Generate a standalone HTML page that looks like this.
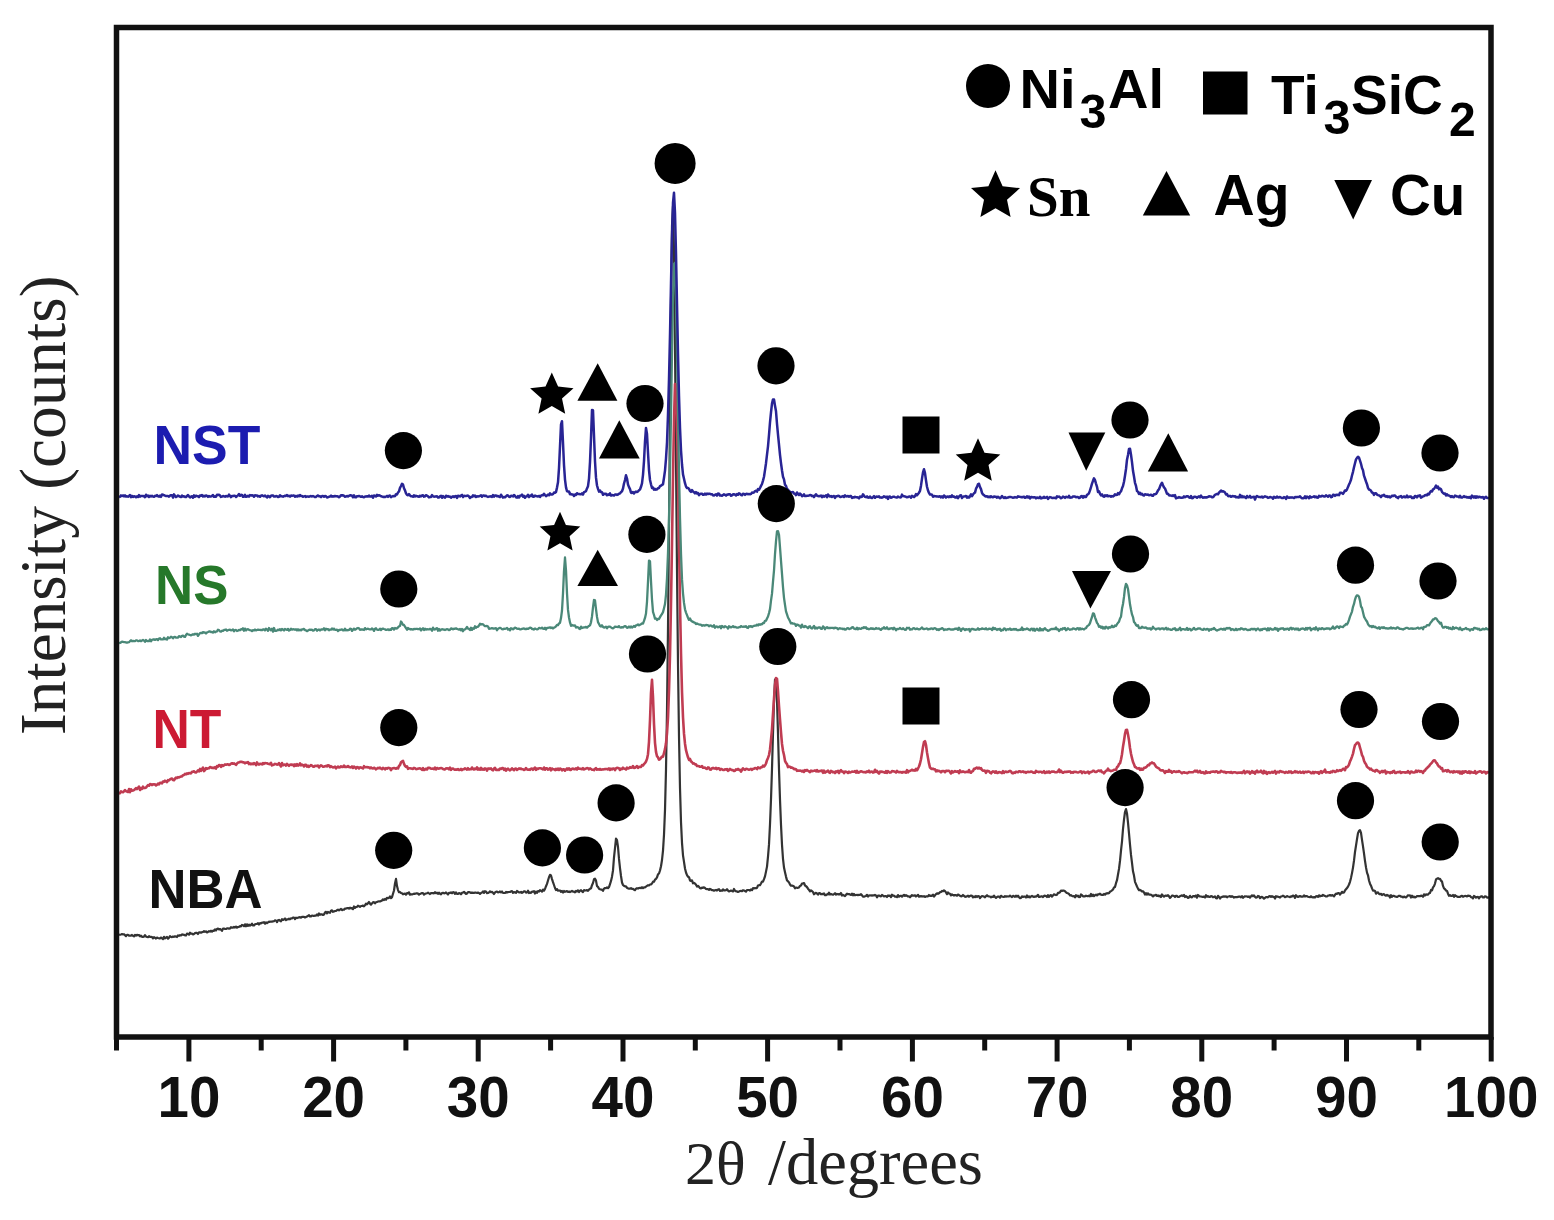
<!DOCTYPE html>
<html><head><meta charset="utf-8"><title>XRD patterns</title>
<style>
html,body{margin:0;padding:0;background:#fff;}
svg{display:block;}
</style></head>
<body>
<svg width="1554" height="1220" viewBox="0 0 1554 1220">
<rect width="1554" height="1220" fill="#ffffff"/>
<g id="curves">
<polyline fill="none" stroke="#333333" stroke-width="2.2" stroke-linejoin="round" points="119,934.5 120,934.8 121,934.5 122,934.1 123,934.5 124,934.2 125,935.1 126,936.1 127,934.9 128,934.9 129,935.7 130,935.7 131,935.7 132,935.0 133,935.8 134,936.4 135,935.0 136,935.7 137,934.8 138,935.3 139,935.0 140,936.3 141,935.6 142,936.8 143,936.8 144,936.7 145,935.1 146,936.6 147,937.0 148,937.2 149,936.2 150,937.0 151,936.8 152,937.0 153,938.4 154,937.2 155,937.8 156,938.5 157,937.6 158,938.0 159,938.3 160,938.3 161,937.5 162,938.3 163,939.0 164,936.8 165,938.4 166,937.7 167,937.0 168,938.7 169,937.7 170,936.2 171,936.9 172,937.1 173,936.5 174,936.9 175,936.3 176,936.6 177,937.0 178,935.4 179,935.8 180,935.2 181,935.5 182,934.4 183,934.7 184,934.8 185,935.4 186,935.5 187,933.6 188,933.8 189,934.7 190,932.7 191,933.6 192,933.7 193,934.5 194,934.0 195,933.1 196,932.9 197,932.9 198,934.0 199,932.4 200,932.4 201,932.7 202,932.2 203,932.0 204,931.2 205,931.8 206,931.4 207,932.4 208,931.9 209,931.2 210,931.6 211,930.7 212,931.6 213,930.7 214,930.9 215,929.5 216,930.5 217,928.9 218,928.5 219,929.5 220,929.0 221,929.6 222,930.9 223,928.6 224,928.6 225,929.0 226,929.0 227,928.4 228,928.3 229,928.7 230,928.5 231,927.2 232,927.7 233,927.7 234,926.8 235,927.5 236,926.6 237,927.7 238,927.0 239,926.8 240,926.2 241,926.4 242,924.9 243,925.3 244,926.2 245,924.3 246,926.3 247,924.3 248,925.9 249,924.6 250,925.6 251,925.0 252,923.7 253,925.5 254,925.5 255,924.3 256,924.0 257,923.9 258,923.2 259,924.5 260,923.2 261,923.4 262,922.7 263,922.7 264,922.1 265,923.7 266,922.5 267,923.2 268,922.4 269,921.7 270,921.8 271,921.5 272,921.7 273,921.3 274,921.2 275,920.3 276,920.5 277,922.1 278,920.3 279,919.9 280,920.7 281,921.3 282,919.2 283,919.9 284,919.4 285,918.5 286,920.1 287,919.4 288,919.3 289,918.6 290,919.3 291,918.4 292,918.5 293,917.7 294,917.5 295,919.1 296,917.7 297,918.1 298,917.7 299,917.3 300,917.1 301,917.7 302,916.9 303,916.8 304,916.8 305,917.5 306,917.0 307,916.6 308,915.8 309,915.1 310,916.5 311,916.4 312,915.5 313,915.8 314,915.8 315,915.7 316,915.6 317,914.4 318,915.6 319,913.5 320,914.8 321,914.3 322,914.4 323,914.9 324,914.4 325,912.4 326,911.8 327,913.4 328,911.9 329,912.4 330,912.8 331,910.8 332,910.3 333,911.8 334,911.4 335,911.0 336,911.0 337,910.2 338,909.6 339,910.3 340,909.6 341,908.9 342,910.2 343,909.6 344,909.7 345,908.6 346,908.6 347,908.2 348,908.0 349,908.6 350,907.7 351,908.3 352,908.1 353,909.1 354,906.5 355,907.9 356,907.0 357,906.9 358,905.7 359,906.2 360,906.8 361,906.0 362,906.0 363,905.5 364,906.3 365,905.3 366,903.6 367,904.4 368,903.2 369,902.0 370,903.6 371,904.6 372,903.4 373,902.3 374,902.1 375,903.3 376,902.3 377,901.9 378,901.5 379,901.3 380,901.5 381,901.0 382,900.5 383,899.3 384,900.0 385,898.9 386,899.8 387,897.8 388,898.2 389,897.9 390,896.5 391,898.1 392,897.1 393,893.8 394,890.5 395,883.5 396,878.9 397,886.1 398,890.1 399,892.2 400,892.1 401,893.0 402,893.3 403,894.3 404,893.8 405,893.6 406,894.7 407,893.2 408,893.4 409,892.4 410,894.7 411,894.3 412,894.3 413,894.1 414,893.7 415,893.8 416,893.4 417,893.4 418,893.6 419,894.6 420,893.9 421,893.5 422,893.1 423,893.1 424,894.6 425,893.8 426,893.5 427,893.2 428,892.7 429,893.4 430,894.0 431,893.1 432,893.2 433,893.2 434,893.4 435,892.2 436,893.2 437,892.7 438,893.9 439,892.7 440,893.7 441,894.3 442,893.0 443,892.8 444,893.3 445,893.2 446,892.5 447,893.5 448,894.5 449,892.9 450,893.0 451,892.4 452,893.3 453,892.2 454,892.3 455,893.9 456,892.4 457,893.8 458,894.0 459,893.1 460,893.3 461,894.3 462,892.8 463,892.5 464,891.9 465,892.9 466,893.9 467,893.5 468,892.2 469,892.2 470,892.4 471,893.0 472,892.6 473,892.9 474,892.9 475,892.5 476,892.7 477,892.8 478,892.6 479,893.0 480,893.9 481,893.0 482,892.6 483,891.4 484,892.8 485,891.2 486,891.5 487,893.1 488,893.0 489,892.4 490,891.3 491,892.2 492,891.9 493,892.8 494,894.0 495,892.5 496,891.8 497,891.5 498,892.3 499,892.2 500,891.5 501,892.4 502,891.5 503,893.0 504,893.0 505,893.0 506,891.9 507,892.6 508,892.1 509,892.0 510,892.0 511,891.3 512,891.2 513,892.8 514,892.1 515,892.3 516,892.9 517,891.0 518,891.6 519,892.3 520,892.4 521,891.9 522,892.9 523,892.3 524,891.3 525,891.4 526,892.6 527,892.4 528,890.7 529,893.0 530,892.4 531,892.9 532,891.7 533,891.7 534,891.1 535,893.6 536,891.6 537,892.8 538,891.1 539,891.6 540,890.2 541,890.9 542,891.6 543,889.6 544,890.6 545,889.0 546,886.2 547,883.9 548,880.5 549,877.2 550,874.8 551,875.5 552,879.1 553,882.2 554,885.0 555,888.0 556,890.0 557,889.1 558,890.7 559,890.5 560,890.5 561,891.9 562,891.0 563,892.5 564,891.0 565,891.8 566,891.4 567,891.1 568,892.0 569,891.5 570,892.1 571,891.6 572,890.9 573,891.6 574,891.7 575,892.3 576,891.0 577,891.5 578,890.3 579,892.0 580,890.7 581,890.2 582,891.3 583,892.1 584,890.2 585,890.4 586,890.5 587,890.0 588,890.8 589,889.6 590,888.8 591,888.3 592,885.2 593,883.0 594,879.3 595,878.7 596,880.6 597,886.1 598,886.9 599,888.7 600,889.2 601,889.6 602,889.6 603,890.9 604,888.6 605,888.0 606,888.1 607,887.4 608,888.2 609,887.1 610,884.2 611,880.9 612,876.7 613,870.4 614,857.3 615,848.2 616,838.6 617,840.1 618,847.0 619,858.9 620,868.2 621,876.0 622,882.5 623,885.0 624,885.8 625,886.4 626,886.4 627,887.8 628,888.4 629,888.6 630,888.7 631,888.1 632,888.9 633,888.9 634,889.8 635,890.2 636,888.7 637,888.2 638,888.6 639,888.0 640,887.8 641,888.1 642,887.2 643,888.1 644,887.3 645,887.3 646,886.6 647,885.9 648,885.3 649,885.3 650,884.5 651,884.4 652,883.5 653,881.7 654,881.7 655,879.6 656,878.8 657,877.4 658,874.3 659,873.5 660,870.5 661,866.2 662,860.0 663,850.6 664,834.7 665,809.9 666,769.6 667,710.6 668,628.0 669,526.8 670,412.6 671,303.6 672,225.9 673,206.4 674,250.4 675,345.4 676,458.9 677,569.8 678,664.5 679,736.5 680,787.9 681,822.1 682,842.8 683,855.3 684,861.9 685,868.5 686,872.5 687,875.1 688,876.7 689,877.2 690,880.4 691,880.9 692,880.3 693,883.3 694,882.8 695,883.6 696,884.7 697,886.6 698,885.9 699,886.8 700,888.2 701,888.4 702,887.6 703,887.8 704,887.3 705,888.0 706,889.0 707,889.2 708,889.2 709,889.9 710,888.9 711,889.5 712,890.2 713,890.2 714,890.7 715,890.3 716,889.9 717,890.5 718,889.6 719,889.2 720,890.9 721,890.5 722,890.8 723,889.4 724,890.4 725,890.3 726,890.2 727,889.2 728,890.6 729,891.5 730,891.1 731,890.5 732,890.9 733,891.4 734,889.0 735,890.8 736,891.3 737,891.3 738,892.0 739,891.6 740,891.0 741,890.9 742,891.2 743,890.2 744,890.5 745,891.0 746,891.7 747,890.1 748,890.0 749,890.0 750,890.6 751,889.4 752,890.2 753,888.2 754,888.4 755,888.0 756,888.3 757,887.9 758,885.5 759,885.2 760,885.2 761,883.5 762,881.6 763,881.7 764,879.2 765,876.4 766,871.6 767,866.6 768,856.7 769,844.4 770,824.3 771,799.2 772,768.8 773,733.1 774,701.1 775,679.6 776,678.8 777,700.7 778,733.5 779,769.4 780,799.6 781,824.8 782,844.8 783,858.8 784,867.6 785,872.3 786,876.6 787,880.4 788,881.3 789,882.4 790,884.5 791,885.7 792,885.7 793,885.8 794,886.5 795,888.3 796,887.5 797,887.8 798,887.8 799,887.4 800,885.9 801,885.5 802,883.5 803,883.3 804,883.0 805,885.5 806,886.1 807,887.1 808,888.7 809,889.9 810,891.4 811,890.4 812,891.2 813,892.0 814,894.3 815,893.4 816,892.8 817,893.5 818,894.6 819,893.1 820,893.1 821,894.3 822,893.9 823,894.1 824,893.4 825,895.1 826,895.1 827,894.3 828,894.5 829,892.6 830,894.5 831,894.0 832,894.5 833,894.7 834,894.1 835,893.2 836,894.7 837,893.9 838,894.3 839,894.1 840,894.3 841,893.0 842,895.5 843,894.9 844,895.5 845,896.1 846,894.8 847,893.6 848,894.2 849,894.0 850,894.6 851,895.0 852,893.6 853,895.3 854,894.0 855,895.3 856,895.0 857,894.9 858,895.1 859,894.8 860,894.8 861,894.1 862,895.3 863,896.6 864,896.7 865,896.3 866,895.9 867,894.9 868,896.5 869,895.4 870,895.5 871,895.3 872,895.6 873,895.3 874,895.5 875,894.9 876,895.4 877,897.3 878,895.7 879,895.6 880,896.1 881,896.3 882,895.0 883,895.7 884,896.5 885,896.1 886,896.0 887,897.0 888,895.5 889,896.0 890,895.6 891,897.0 892,894.7 893,895.6 894,895.7 895,896.6 896,896.5 897,897.1 898,895.1 899,896.7 900,896.0 901,895.7 902,896.6 903,895.6 904,894.8 905,895.9 906,895.2 907,895.8 908,896.5 909,896.4 910,897.3 911,896.1 912,895.1 913,895.7 914,895.6 915,895.3 916,896.5 917,895.7 918,894.8 919,896.7 920,896.1 921,896.4 922,896.2 923,896.6 924,896.2 925,897.0 926,896.4 927,896.3 928,896.3 929,895.0 930,895.8 931,895.7 932,895.9 933,894.7 934,896.6 935,895.3 936,894.1 937,893.3 938,893.8 939,893.3 940,892.2 941,892.0 942,890.9 943,891.3 944,890.3 945,891.1 946,892.4 947,894.2 948,892.4 949,893.5 950,893.8 951,895.4 952,894.4 953,895.1 954,895.6 955,895.1 956,895.2 957,895.7 958,894.6 959,895.1 960,895.8 961,896.3 962,896.1 963,895.0 964,895.9 965,896.8 966,896.7 967,896.2 968,895.7 969,896.8 970,895.9 971,895.5 972,895.8 973,897.4 974,896.5 975,897.2 976,896.0 977,897.0 978,896.0 979,896.3 980,898.1 981,896.9 982,896.0 983,896.3 984,896.6 985,897.3 986,896.1 987,895.2 988,896.2 989,896.4 990,896.5 991,897.3 992,896.7 993,897.0 994,895.7 995,897.0 996,897.9 997,897.0 998,896.6 999,896.6 1000,897.7 1001,895.8 1002,896.4 1003,896.8 1004,897.0 1005,896.1 1006,896.7 1007,896.3 1008,896.5 1009,896.4 1010,895.6 1011,896.4 1012,897.1 1013,895.8 1014,896.3 1015,896.9 1016,895.7 1017,896.6 1018,895.7 1019,897.2 1020,898.1 1021,897.9 1022,896.3 1023,897.0 1024,896.5 1025,896.5 1026,897.5 1027,895.5 1028,897.2 1029,896.4 1030,897.4 1031,896.5 1032,895.9 1033,896.6 1034,896.9 1035,896.4 1036,896.7 1037,896.0 1038,894.8 1039,897.0 1040,896.8 1041,896.4 1042,896.3 1043,897.0 1044,895.9 1045,895.7 1046,896.0 1047,897.0 1048,895.1 1049,896.9 1050,895.5 1051,895.1 1052,896.6 1053,895.4 1054,894.3 1055,894.7 1056,895.1 1057,894.7 1058,892.9 1059,892.8 1060,892.2 1061,890.6 1062,890.9 1063,890.6 1064,890.6 1065,891.2 1066,892.3 1067,893.0 1068,893.3 1069,894.0 1070,895.5 1071,895.2 1072,895.9 1073,896.3 1074,896.0 1075,897.3 1076,895.2 1077,896.4 1078,895.6 1079,897.1 1080,897.0 1081,894.5 1082,895.2 1083,896.3 1084,896.4 1085,896.3 1086,895.7 1087,896.1 1088,896.2 1089,895.6 1090,896.4 1091,894.0 1092,896.0 1093,894.7 1094,896.1 1095,895.2 1096,894.6 1097,895.4 1098,894.4 1099,894.3 1100,893.7 1101,894.6 1102,894.8 1103,895.0 1104,894.0 1105,894.6 1106,893.6 1107,893.2 1108,893.3 1109,893.2 1110,891.7 1111,891.1 1112,890.4 1113,889.5 1114,887.4 1115,886.9 1116,883.2 1117,880.2 1118,874.5 1119,868.9 1120,860.9 1121,850.7 1122,841.5 1123,829.0 1124,819.7 1125,812.0 1126,809.1 1127,813.4 1128,822.6 1129,833.3 1130,844.7 1131,854.9 1132,862.8 1133,871.3 1134,875.6 1135,881.8 1136,884.2 1137,886.5 1138,888.6 1139,890.2 1140,889.9 1141,890.4 1142,891.5 1143,891.3 1144,892.5 1145,894.6 1146,893.1 1147,894.5 1148,893.3 1149,894.7 1150,894.5 1151,894.8 1152,895.4 1153,896.4 1154,895.4 1155,895.4 1156,894.8 1157,895.9 1158,895.4 1159,896.3 1160,895.7 1161,897.0 1162,894.5 1163,895.7 1164,896.6 1165,895.8 1166,895.5 1167,895.9 1168,895.2 1169,896.3 1170,897.9 1171,897.0 1172,895.5 1173,895.7 1174,896.0 1175,897.0 1176,895.8 1177,895.9 1178,897.0 1179,897.0 1180,896.2 1181,895.7 1182,895.4 1183,896.0 1184,894.9 1185,897.0 1186,896.1 1187,896.9 1188,897.9 1189,897.4 1190,895.8 1191,897.2 1192,897.4 1193,896.1 1194,896.0 1195,896.6 1196,895.5 1197,897.7 1198,895.0 1199,895.9 1200,896.5 1201,896.5 1202,896.8 1203,896.9 1204,896.6 1205,897.5 1206,895.2 1207,896.7 1208,896.2 1209,896.8 1210,896.9 1211,896.1 1212,896.3 1213,897.3 1214,897.0 1215,896.3 1216,898.2 1217,898.4 1218,895.8 1219,897.0 1220,898.5 1221,897.3 1222,896.9 1223,896.6 1224,896.4 1225,896.7 1226,896.4 1227,897.3 1228,896.5 1229,896.5 1230,896.0 1231,896.8 1232,896.2 1233,896.7 1234,897.6 1235,897.1 1236,897.2 1237,897.1 1238,896.9 1239,896.7 1240,896.6 1241,897.4 1242,896.1 1243,897.8 1244,896.9 1245,896.3 1246,896.5 1247,896.4 1248,897.0 1249,896.3 1250,897.7 1251,896.3 1252,895.3 1253,896.3 1254,895.4 1255,896.8 1256,897.6 1257,897.3 1258,895.9 1259,896.3 1260,898.1 1261,897.1 1262,896.9 1263,897.6 1264,898.6 1265,897.8 1266,897.0 1267,897.1 1268,897.3 1269,896.4 1270,896.1 1271,896.9 1272,896.2 1273,896.8 1274,896.9 1275,898.5 1276,896.2 1277,896.7 1278,896.7 1279,897.1 1280,897.6 1281,896.5 1282,896.2 1283,895.7 1284,896.2 1285,897.2 1286,896.8 1287,896.1 1288,896.5 1289,896.8 1290,897.1 1291,896.4 1292,896.6 1293,895.5 1294,895.9 1295,897.9 1296,895.2 1297,896.5 1298,896.9 1299,896.4 1300,896.1 1301,896.6 1302,896.7 1303,896.6 1304,895.3 1305,896.5 1306,896.0 1307,896.2 1308,896.7 1309,897.0 1310,897.2 1311,896.2 1312,897.1 1313,897.3 1314,897.2 1315,897.4 1316,896.3 1317,896.2 1318,896.9 1319,895.3 1320,896.4 1321,895.8 1322,895.9 1323,894.9 1324,895.4 1325,895.9 1326,896.5 1327,896.5 1328,895.7 1329,895.5 1330,895.0 1331,895.7 1332,895.1 1333,895.6 1334,896.3 1335,894.8 1336,893.6 1337,893.9 1338,893.2 1339,893.1 1340,894.6 1341,893.4 1342,891.8 1343,892.8 1344,892.5 1345,890.5 1346,889.2 1347,888.0 1348,886.6 1349,884.5 1350,881.8 1351,877.9 1352,873.1 1353,867.6 1354,860.7 1355,852.0 1356,845.7 1357,839.1 1358,833.1 1359,830.9 1360,830.1 1361,832.8 1362,839.9 1363,846.3 1364,853.3 1365,860.9 1366,867.4 1367,872.6 1368,875.3 1369,880.5 1370,883.7 1371,885.7 1372,888.4 1373,890.6 1374,890.5 1375,890.9 1376,893.7 1377,892.5 1378,892.4 1379,893.8 1380,894.3 1381,893.8 1382,895.0 1383,894.4 1384,894.2 1385,895.2 1386,895.7 1387,894.9 1388,895.7 1389,895.5 1390,897.6 1391,895.2 1392,896.8 1393,895.8 1394,895.9 1395,896.5 1396,896.7 1397,897.0 1398,896.4 1399,895.8 1400,895.8 1401,896.6 1402,896.7 1403,897.3 1404,896.6 1405,897.1 1406,897.4 1407,896.5 1408,895.3 1409,895.5 1410,895.4 1411,897.5 1412,895.7 1413,897.2 1414,896.7 1415,897.5 1416,897.0 1417,896.1 1418,896.0 1419,896.2 1420,896.2 1421,895.6 1422,895.8 1423,896.8 1424,894.3 1425,895.5 1426,894.4 1427,894.7 1428,894.6 1429,893.3 1430,892.9 1431,890.0 1432,890.4 1433,887.4 1434,886.1 1435,883.6 1436,879.4 1437,878.7 1438,878.2 1439,878.9 1440,878.9 1441,880.6 1442,881.6 1443,885.9 1444,888.3 1445,889.1 1446,890.5 1447,890.9 1448,893.7 1449,895.8 1450,895.1 1451,895.9 1452,895.8 1453,895.0 1454,896.8 1455,895.2 1456,896.0 1457,896.5 1458,897.0 1459,896.8 1460,896.8 1461,896.1 1462,895.8 1463,896.8 1464,896.3 1465,895.9 1466,896.0 1467,896.5 1468,895.6 1469,896.0 1470,895.8 1471,897.1 1472,897.3 1473,898.4 1474,896.0 1475,896.6 1476,897.7 1477,897.0 1478,896.9 1479,898.3 1480,896.9 1481,896.4 1482,896.3 1483,897.4 1484,897.4 1485,896.3 1486,896.5 1487,897.6 1488,897.6 1489,896.8"/>
<polyline fill="none" stroke="#c03c52" stroke-width="2.6" stroke-linejoin="round" points="119,793.4 120,793.2 121,791.3 122,792.1 123,792.3 124,791.4 125,790.1 126,791.1 127,791.6 128,792.0 129,789.1 130,792.2 131,789.3 132,790.6 133,790.5 134,790.1 135,789.3 136,788.1 137,789.1 138,788.0 139,786.5 140,790.0 141,788.2 142,788.8 143,786.6 144,788.1 145,787.9 146,787.6 147,786.3 148,785.2 149,785.7 150,784.1 151,784.2 152,785.2 153,784.2 154,784.5 155,784.3 156,785.5 157,784.8 158,783.7 159,784.3 160,782.7 161,782.8 162,783.3 163,781.5 164,781.8 165,780.7 166,781.4 167,782.1 168,780.1 169,780.5 170,779.4 171,778.8 172,778.5 173,780.0 174,780.3 175,778.7 176,777.5 177,778.1 178,777.1 179,777.5 180,776.9 181,776.5 182,776.4 183,775.2 184,775.0 185,773.8 186,774.3 187,773.3 188,773.9 189,773.0 190,773.4 191,773.3 192,771.7 193,771.7 194,771.3 195,772.2 196,772.5 197,771.6 198,770.4 199,771.3 200,768.9 201,770.8 202,769.1 203,767.5 204,771.1 205,770.1 206,768.1 207,768.8 208,768.3 209,768.3 210,767.0 211,767.4 212,768.0 213,767.6 214,768.1 215,767.2 216,768.6 217,766.2 218,766.7 219,765.0 220,765.3 221,766.9 222,765.1 223,765.9 224,765.3 225,764.4 226,764.7 227,764.4 228,764.3 229,764.9 230,764.7 231,763.6 232,763.2 233,763.8 234,763.4 235,764.0 236,764.9 237,763.5 238,762.6 239,762.4 240,761.9 241,761.9 242,761.9 243,762.4 244,762.4 245,763.3 246,762.5 247,762.7 248,762.0 249,764.1 250,763.3 251,764.3 252,763.6 253,764.2 254,763.0 255,763.7 256,765.1 257,762.4 258,764.2 259,764.6 260,763.7 261,764.0 262,764.4 263,763.1 264,763.9 265,763.0 266,763.2 267,763.3 268,763.7 269,763.9 270,764.2 271,762.9 272,765.4 273,764.9 274,764.6 275,763.9 276,764.1 277,764.6 278,764.5 279,763.1 280,764.9 281,766.5 282,763.1 283,765.2 284,764.8 285,764.5 286,765.6 287,763.8 288,764.8 289,765.8 290,764.7 291,764.5 292,765.0 293,764.6 294,766.1 295,764.4 296,765.7 297,764.2 298,765.6 299,765.1 300,763.4 301,765.3 302,764.6 303,765.1 304,766.5 305,764.7 306,764.8 307,766.6 308,765.7 309,766.8 310,765.9 311,765.1 312,765.7 313,766.7 314,766.6 315,765.9 316,766.0 317,765.9 318,765.6 319,767.5 320,766.1 321,765.4 322,765.9 323,766.8 324,766.7 325,766.2 326,765.9 327,766.4 328,765.2 329,765.5 330,767.1 331,766.2 332,766.9 333,767.5 334,767.1 335,766.7 336,768.3 337,767.3 338,766.6 339,767.4 340,767.2 341,766.3 342,767.0 343,766.9 344,765.6 345,767.0 346,766.9 347,766.9 348,766.0 349,767.0 350,767.3 351,767.4 352,766.5 353,767.9 354,766.6 355,767.3 356,768.5 357,767.1 358,767.2 359,768.4 360,767.4 361,767.5 362,767.9 363,768.5 364,766.2 365,767.3 366,767.2 367,767.1 368,767.4 369,767.4 370,768.3 371,767.4 372,768.2 373,768.4 374,767.7 375,768.3 376,769.4 377,768.5 378,767.9 379,768.3 380,767.7 381,768.6 382,769.1 383,767.9 384,768.4 385,769.3 386,768.2 387,768.7 388,767.9 389,768.0 390,768.3 391,770.2 392,768.4 393,768.2 394,768.1 395,768.3 396,768.7 397,767.9 398,768.5 399,766.0 400,765.0 401,762.2 402,761.4 403,760.9 404,763.9 405,765.8 406,766.9 407,766.3 408,768.8 409,768.2 410,768.3 411,768.5 412,768.6 413,769.0 414,767.9 415,768.2 416,769.1 417,769.0 418,768.6 419,768.5 420,768.3 421,768.9 422,769.8 423,768.2 424,770.0 425,769.5 426,768.6 427,769.5 428,767.9 429,767.8 430,768.1 431,768.7 432,768.8 433,768.6 434,769.1 435,767.5 436,769.4 437,768.0 438,768.5 439,768.7 440,768.2 441,768.1 442,768.3 443,769.0 444,769.4 445,769.4 446,768.3 447,768.5 448,768.4 449,769.4 450,767.6 451,769.9 452,768.7 453,768.5 454,769.3 455,769.8 456,769.3 457,769.8 458,769.1 459,769.9 460,769.9 461,769.0 462,770.1 463,769.2 464,769.1 465,768.4 466,768.9 467,769.6 468,768.2 469,769.5 470,769.3 471,769.3 472,767.5 473,769.0 474,769.5 475,768.5 476,769.1 477,767.4 478,769.6 479,768.6 480,769.7 481,767.8 482,769.6 483,768.9 484,769.7 485,768.4 486,768.7 487,770.7 488,768.5 489,768.6 490,768.9 491,768.4 492,769.9 493,770.3 494,768.6 495,767.9 496,769.9 497,769.9 498,769.7 499,769.9 500,768.5 501,769.0 502,768.1 503,768.1 504,769.8 505,768.6 506,770.7 507,769.2 508,768.7 509,769.7 510,770.4 511,769.5 512,768.3 513,769.4 514,770.1 515,768.8 516,768.6 517,769.8 518,769.2 519,768.4 520,768.9 521,768.6 522,769.3 523,769.2 524,769.9 525,769.6 526,768.0 527,769.4 528,769.8 529,769.5 530,769.9 531,768.7 532,768.5 533,769.8 534,768.4 535,767.6 536,769.9 537,768.6 538,768.9 539,768.2 540,768.2 541,768.3 542,768.9 543,769.4 544,767.5 545,769.7 546,768.3 547,768.4 548,769.6 549,769.1 550,768.1 551,770.4 552,768.5 553,769.3 554,769.3 555,770.1 556,768.8 557,769.8 558,768.6 559,769.9 560,768.6 561,768.9 562,770.4 563,769.3 564,769.2 565,770.7 566,769.4 567,768.5 568,769.6 569,768.3 570,769.9 571,769.9 572,768.7 573,768.6 574,769.2 575,769.1 576,768.4 577,769.5 578,767.6 579,768.8 580,768.8 581,768.9 582,769.3 583,768.2 584,769.5 585,768.9 586,768.6 587,768.1 588,768.2 589,769.3 590,768.3 591,769.0 592,769.7 593,769.7 594,770.1 595,768.8 596,768.2 597,769.7 598,769.2 599,769.7 600,768.9 601,769.7 602,769.5 603,769.4 604,769.2 605,769.1 606,769.0 607,769.0 608,769.5 609,768.4 610,770.0 611,768.7 612,769.4 613,768.6 614,768.5 615,770.1 616,768.4 617,767.7 618,768.1 619,768.3 620,770.0 621,768.6 622,769.1 623,767.7 624,768.6 625,768.7 626,769.5 627,767.7 628,768.5 629,768.2 630,767.2 631,767.8 632,767.6 633,766.0 634,768.0 635,767.8 636,766.9 637,766.1 638,767.9 639,766.8 640,767.0 641,766.9 642,765.1 643,765.5 644,764.0 645,763.1 646,761.5 647,758.9 648,754.2 649,741.8 650,720.5 651,692.8 652,679.9 653,697.1 654,724.0 655,742.8 656,751.9 657,756.2 658,757.4 659,759.7 660,759.1 661,757.9 662,756.6 663,756.6 664,753.0 665,749.1 666,743.3 667,733.3 668,717.6 669,690.9 670,655.1 671,603.0 672,543.4 673,477.2 674,421.1 675,384.1 676,384.3 677,420.6 678,479.0 679,542.5 680,603.8 681,653.2 682,691.7 683,717.3 684,733.7 685,743.7 686,750.2 687,753.8 688,757.3 689,759.9 690,758.9 691,761.4 692,762.1 693,763.6 694,763.3 695,764.4 696,764.3 697,766.0 698,766.0 699,766.2 700,766.8 701,766.7 702,766.0 703,767.8 704,767.8 705,767.6 706,768.6 707,768.9 708,767.4 709,767.8 710,769.5 711,769.6 712,768.2 713,767.9 714,768.4 715,768.6 716,767.9 717,769.1 718,768.3 719,768.4 720,769.9 721,768.9 722,769.3 723,769.9 724,770.0 725,769.3 726,769.6 727,769.0 728,770.8 729,770.1 730,768.9 731,769.7 732,770.2 733,770.1 734,771.0 735,770.7 736,769.4 737,769.7 738,768.9 739,770.0 740,769.9 741,771.7 742,769.8 743,768.3 744,769.3 745,769.8 746,768.8 747,769.0 748,769.4 749,769.8 750,769.4 751,768.8 752,769.9 753,768.9 754,768.8 755,768.0 756,768.3 757,769.1 758,767.3 759,768.1 760,768.3 761,767.2 762,767.1 763,765.6 764,766.6 765,765.5 766,763.5 767,760.2 768,757.9 769,755.1 770,749.5 771,739.8 772,729.1 773,713.8 774,698.8 775,685.3 776,678.0 777,678.7 778,691.0 779,706.1 780,719.4 781,732.3 782,743.9 783,750.8 784,755.0 785,760.8 786,762.8 787,764.1 788,767.1 789,766.6 790,766.7 791,767.8 792,767.5 793,768.1 794,769.2 795,768.9 796,769.2 797,770.9 798,770.5 799,770.7 800,770.6 801,770.7 802,771.5 803,770.6 804,772.0 805,770.1 806,770.7 807,769.9 808,770.7 809,771.4 810,772.1 811,770.7 812,771.2 813,770.9 814,770.7 815,770.4 816,771.3 817,770.1 818,771.4 819,771.4 820,770.9 821,770.7 822,770.5 823,772.8 824,770.6 825,772.6 826,771.9 827,771.3 828,770.7 829,772.3 830,772.8 831,770.9 832,771.4 833,772.4 834,771.9 835,773.0 836,771.3 837,772.0 838,770.8 839,773.1 840,771.2 841,770.1 842,771.6 843,771.6 844,773.1 845,771.5 846,771.7 847,772.1 848,772.9 849,771.7 850,772.5 851,772.1 852,771.6 853,771.8 854,771.8 855,771.1 856,772.6 857,770.8 858,772.6 859,772.5 860,771.7 861,771.3 862,771.6 863,772.1 864,772.3 865,772.0 866,772.5 867,771.4 868,772.0 869,770.7 870,772.3 871,771.9 872,771.5 873,772.6 874,772.3 875,769.8 876,771.8 877,770.8 878,772.6 879,773.6 880,771.5 881,771.9 882,771.6 883,772.1 884,772.3 885,772.7 886,771.1 887,772.9 888,771.1 889,772.0 890,772.6 891,772.3 892,771.1 893,771.3 894,771.4 895,771.7 896,772.5 897,770.8 898,772.0 899,772.1 900,772.1 901,772.0 902,772.7 903,771.9 904,772.2 905,771.9 906,772.7 907,770.1 908,772.3 909,771.1 910,771.0 911,770.4 912,769.7 913,770.5 914,770.1 915,770.6 916,768.9 917,770.3 918,768.5 919,766.5 920,763.5 921,759.2 922,753.1 923,746.9 924,742.0 925,741.2 926,745.0 927,752.4 928,758.1 929,763.4 930,767.6 931,768.5 932,769.0 933,768.7 934,769.3 935,769.4 936,771.3 937,770.4 938,771.1 939,770.8 940,771.4 941,772.4 942,771.0 943,771.3 944,771.0 945,772.2 946,770.9 947,770.9 948,770.7 949,770.7 950,772.0 951,773.5 952,771.1 953,772.4 954,771.9 955,771.0 956,771.6 957,771.6 958,771.3 959,773.1 960,770.4 961,772.0 962,772.0 963,771.4 964,771.8 965,772.3 966,771.8 967,771.9 968,772.1 969,770.0 970,772.3 971,772.7 972,771.4 973,771.0 974,768.7 975,769.0 976,767.9 977,767.6 978,768.6 979,767.7 980,768.7 981,768.2 982,770.0 983,770.7 984,770.5 985,770.8 986,772.8 987,770.7 988,770.9 989,771.2 990,772.6 991,773.3 992,772.1 993,771.4 994,771.6 995,772.7 996,771.3 997,772.9 998,772.9 999,772.0 1000,772.4 1001,772.5 1002,773.1 1003,771.2 1004,772.8 1005,771.7 1006,771.5 1007,772.1 1008,771.9 1009,771.3 1010,770.9 1011,771.4 1012,773.0 1013,773.4 1014,772.5 1015,772.9 1016,771.7 1017,772.0 1018,772.2 1019,771.3 1020,771.3 1021,772.1 1022,771.8 1023,771.3 1024,772.3 1025,771.9 1026,772.8 1027,772.0 1028,771.8 1029,772.1 1030,771.9 1031,771.6 1032,771.8 1033,772.6 1034,772.5 1035,772.9 1036,770.9 1037,771.8 1038,771.8 1039,772.2 1040,771.7 1041,771.7 1042,772.6 1043,772.2 1044,771.2 1045,773.0 1046,772.7 1047,771.6 1048,772.6 1049,771.5 1050,772.8 1051,771.9 1052,771.5 1053,771.8 1054,771.5 1055,772.2 1056,772.2 1057,772.1 1058,771.6 1059,769.5 1060,772.1 1061,770.7 1062,772.2 1063,772.8 1064,772.2 1065,771.7 1066,771.9 1067,771.9 1068,771.6 1069,771.6 1070,771.4 1071,772.8 1072,772.0 1073,772.7 1074,771.8 1075,772.0 1076,771.9 1077,772.3 1078,772.5 1079,772.1 1080,771.5 1081,771.4 1082,773.1 1083,771.7 1084,771.7 1085,772.9 1086,772.6 1087,772.2 1088,771.6 1089,773.5 1090,772.1 1091,772.2 1092,771.7 1093,770.8 1094,770.8 1095,772.0 1096,772.0 1097,771.5 1098,770.8 1099,770.6 1100,771.3 1101,770.5 1102,772.1 1103,772.2 1104,773.3 1105,771.9 1106,770.8 1107,770.5 1108,768.6 1109,770.4 1110,770.6 1111,771.2 1112,770.7 1113,770.4 1114,769.8 1115,769.7 1116,769.7 1117,767.1 1118,766.4 1119,763.9 1120,763.4 1121,759.5 1122,754.2 1123,746.6 1124,740.7 1125,733.9 1126,729.9 1127,729.7 1128,734.4 1129,740.2 1130,748.0 1131,753.7 1132,758.2 1133,762.0 1134,764.3 1135,767.0 1136,767.3 1137,768.5 1138,768.5 1139,768.1 1140,769.9 1141,768.6 1142,769.8 1143,769.5 1144,767.7 1145,767.7 1146,767.3 1147,766.3 1148,765.0 1149,765.3 1150,763.6 1151,763.3 1152,762.4 1153,763.3 1154,763.4 1155,765.0 1156,766.7 1157,767.4 1158,768.0 1159,768.4 1160,769.9 1161,770.5 1162,770.4 1163,770.3 1164,771.5 1165,773.0 1166,771.1 1167,771.7 1168,771.8 1169,769.8 1170,771.7 1171,771.2 1172,772.7 1173,771.6 1174,771.2 1175,771.7 1176,772.0 1177,771.5 1178,771.9 1179,771.0 1180,771.8 1181,772.5 1182,773.3 1183,772.5 1184,772.2 1185,772.8 1186,772.7 1187,773.2 1188,772.8 1189,772.0 1190,772.2 1191,772.2 1192,772.3 1193,772.2 1194,771.5 1195,770.6 1196,771.6 1197,770.7 1198,772.2 1199,772.1 1200,770.9 1201,772.6 1202,772.7 1203,772.2 1204,773.3 1205,773.4 1206,771.3 1207,772.9 1208,772.5 1209,772.4 1210,772.8 1211,771.7 1212,771.7 1213,771.6 1214,771.6 1215,772.1 1216,771.2 1217,771.4 1218,772.6 1219,772.1 1220,772.4 1221,770.9 1222,771.6 1223,771.8 1224,772.2 1225,771.8 1226,772.8 1227,772.2 1228,772.2 1229,772.2 1230,772.7 1231,771.9 1232,773.0 1233,772.5 1234,772.3 1235,772.2 1236,772.6 1237,772.9 1238,772.9 1239,772.5 1240,772.8 1241,772.3 1242,773.1 1243,772.2 1244,770.8 1245,773.2 1246,772.3 1247,771.4 1248,772.1 1249,771.6 1250,773.7 1251,772.6 1252,771.1 1253,772.6 1254,771.9 1255,773.6 1256,771.5 1257,770.6 1258,772.3 1259,772.0 1260,771.9 1261,770.7 1262,772.5 1263,773.4 1264,770.9 1265,773.0 1266,771.8 1267,773.9 1268,772.5 1269,772.1 1270,773.0 1271,772.6 1272,771.8 1273,772.7 1274,771.9 1275,771.0 1276,773.6 1277,772.0 1278,771.8 1279,772.4 1280,771.1 1281,771.3 1282,771.9 1283,771.8 1284,772.3 1285,773.0 1286,771.9 1287,772.5 1288,772.6 1289,771.4 1290,772.4 1291,771.5 1292,772.9 1293,772.5 1294,772.2 1295,771.2 1296,772.3 1297,771.6 1298,772.7 1299,772.1 1300,771.6 1301,772.8 1302,772.6 1303,771.7 1304,772.9 1305,771.9 1306,771.9 1307,772.2 1308,771.6 1309,771.8 1310,772.0 1311,773.1 1312,773.1 1313,771.9 1314,773.2 1315,772.0 1316,772.3 1317,772.6 1318,772.2 1319,773.7 1320,772.1 1321,771.1 1322,772.8 1323,771.6 1324,771.6 1325,769.7 1326,772.5 1327,772.3 1328,772.3 1329,772.4 1330,772.8 1331,771.5 1332,772.2 1333,770.9 1334,771.1 1335,772.0 1336,771.5 1337,770.2 1338,771.2 1339,770.7 1340,770.1 1341,770.8 1342,769.9 1343,768.8 1344,768.7 1345,770.2 1346,767.1 1347,767.4 1348,766.4 1349,764.7 1350,761.3 1351,759.3 1352,756.6 1353,753.6 1354,749.0 1355,745.2 1356,744.1 1357,742.8 1358,742.6 1359,743.9 1360,747.6 1361,751.0 1362,755.1 1363,756.9 1364,760.7 1365,762.9 1366,764.2 1367,766.7 1368,767.7 1369,768.2 1370,769.4 1371,768.7 1372,770.0 1373,770.6 1374,770.7 1375,771.5 1376,770.0 1377,770.0 1378,771.3 1379,771.6 1380,772.8 1381,771.8 1382,770.9 1383,772.1 1384,771.0 1385,770.6 1386,773.5 1387,771.9 1388,772.3 1389,772.2 1390,773.1 1391,772.0 1392,772.7 1393,771.2 1394,770.9 1395,772.9 1396,773.0 1397,772.3 1398,772.1 1399,772.1 1400,771.5 1401,773.0 1402,772.4 1403,772.3 1404,772.2 1405,772.7 1406,772.3 1407,772.5 1408,771.1 1409,772.3 1410,773.4 1411,771.5 1412,771.8 1413,772.5 1414,772.5 1415,772.2 1416,770.6 1417,772.0 1418,770.8 1419,770.9 1420,771.8 1421,771.0 1422,771.6 1423,773.0 1424,771.0 1425,770.5 1426,768.8 1427,768.2 1428,766.9 1429,766.2 1430,764.6 1431,763.6 1432,762.6 1433,761.1 1434,760.3 1435,760.5 1436,762.5 1437,763.3 1438,765.3 1439,766.6 1440,766.8 1441,768.6 1442,768.0 1443,771.3 1444,771.1 1445,770.5 1446,770.2 1447,771.5 1448,770.1 1449,771.0 1450,772.2 1451,771.8 1452,771.5 1453,772.5 1454,771.2 1455,772.2 1456,771.7 1457,771.4 1458,772.4 1459,771.4 1460,773.5 1461,771.7 1462,773.6 1463,771.4 1464,772.6 1465,771.4 1466,771.3 1467,772.4 1468,772.7 1469,771.4 1470,773.1 1471,771.7 1472,772.4 1473,772.6 1474,772.7 1475,771.1 1476,773.5 1477,772.7 1478,772.0 1479,771.6 1480,771.2 1481,771.4 1482,772.7 1483,772.1 1484,771.6 1485,772.0 1486,773.5 1487,772.2 1488,772.0 1489,773.3"/>
<polyline fill="none" stroke="#4a8878" stroke-width="2.3" stroke-linejoin="round" points="119,643.3 120,642.9 121,642.4 122,641.6 123,641.8 124,642.2 125,642.2 126,642.5 127,642.6 128,642.3 129,642.2 130,641.2 131,640.3 132,641.3 133,640.9 134,641.1 135,641.2 136,640.4 137,640.4 138,641.1 139,641.1 140,640.5 141,641.2 142,640.6 143,639.9 144,640.6 145,641.8 146,639.9 147,641.1 148,641.1 149,641.1 150,639.4 151,641.3 152,639.8 153,639.5 154,639.4 155,639.9 156,639.4 157,639.1 158,640.1 159,638.6 160,638.2 161,639.4 162,639.3 163,639.4 164,637.8 165,639.2 166,638.7 167,639.5 168,637.3 169,638.2 170,637.8 171,636.7 172,637.2 173,638.3 174,637.1 175,636.8 176,637.7 177,637.7 178,637.5 179,636.1 180,636.5 181,637.1 182,635.8 183,635.6 184,636.6 185,636.9 186,634.9 187,633.7 188,634.4 189,634.6 190,635.0 191,635.4 192,634.7 193,634.2 194,634.7 195,633.7 196,634.2 197,633.7 198,635.9 199,634.4 200,633.1 201,632.9 202,633.1 203,632.1 204,632.6 205,632.5 206,633.5 207,632.4 208,632.0 209,631.5 210,631.4 211,632.1 212,631.8 213,632.6 214,631.3 215,632.3 216,631.6 217,631.3 218,629.7 219,630.1 220,631.4 221,631.7 222,630.7 223,630.9 224,630.0 225,629.9 226,629.5 227,630.7 228,630.2 229,629.8 230,629.7 231,630.4 232,630.2 233,629.4 234,631.2 235,630.1 236,630.0 237,631.0 238,630.7 239,629.9 240,630.3 241,629.2 242,629.5 243,628.3 244,630.8 245,628.6 246,630.4 247,629.3 248,629.2 249,629.8 250,630.1 251,630.3 252,631.1 253,630.2 254,630.5 255,629.5 256,630.4 257,630.0 258,629.6 259,629.8 260,629.8 261,630.0 262,630.2 263,629.5 264,629.3 265,630.4 266,628.7 267,629.4 268,630.9 269,628.0 270,629.4 271,630.3 272,628.7 273,631.7 274,628.0 275,630.8 276,630.9 277,630.5 278,629.7 279,630.1 280,629.2 281,630.4 282,629.0 283,629.6 284,630.5 285,629.0 286,629.5 287,629.9 288,628.9 289,630.6 290,630.0 291,628.7 292,629.7 293,629.2 294,629.3 295,629.8 296,629.3 297,630.4 298,629.3 299,630.4 300,629.7 301,630.4 302,629.4 303,629.4 304,628.9 305,630.1 306,630.4 307,631.2 308,630.6 309,629.9 310,629.6 311,630.0 312,629.7 313,630.7 314,630.4 315,629.1 316,629.2 317,630.7 318,629.9 319,629.5 320,630.5 321,629.4 322,629.5 323,629.4 324,628.3 325,630.3 326,628.8 327,629.3 328,629.1 329,630.2 330,629.6 331,629.7 332,628.5 333,629.6 334,628.6 335,629.9 336,629.9 337,629.6 338,631.1 339,630.0 340,630.0 341,629.7 342,629.5 343,630.3 344,630.4 345,628.7 346,630.3 347,630.0 348,630.3 349,629.9 350,628.7 351,628.8 352,630.9 353,629.8 354,628.6 355,629.8 356,629.3 357,628.3 358,628.0 359,628.4 360,629.8 361,629.5 362,629.4 363,629.7 364,630.0 365,628.1 366,629.3 367,629.0 368,628.7 369,629.1 370,629.4 371,629.3 372,628.5 373,629.2 374,630.9 375,628.8 376,628.3 377,629.7 378,629.9 379,629.8 380,628.7 381,630.1 382,628.9 383,628.6 384,629.0 385,629.3 386,629.9 387,629.8 388,629.3 389,630.0 390,629.4 391,629.9 392,628.2 393,628.1 394,629.6 395,628.0 396,628.6 397,628.4 398,627.4 399,626.3 400,626.0 401,621.5 402,623.0 403,624.8 404,625.0 405,626.6 406,628.2 407,629.7 408,627.9 409,629.0 410,628.9 411,629.5 412,629.2 413,629.6 414,628.9 415,629.2 416,628.8 417,628.8 418,629.1 419,629.1 420,628.4 421,630.4 422,629.2 423,628.3 424,630.0 425,628.7 426,629.6 427,629.2 428,629.4 429,629.4 430,628.8 431,629.3 432,630.7 433,627.7 434,629.3 435,629.5 436,628.5 437,628.2 438,630.7 439,628.9 440,630.6 441,629.6 442,629.2 443,629.5 444,629.6 445,630.0 446,629.5 447,629.2 448,629.3 449,630.1 450,629.7 451,628.4 452,628.7 453,629.3 454,628.6 455,628.8 456,628.4 457,628.9 458,629.3 459,629.7 460,629.0 461,630.4 462,628.9 463,631.2 464,629.6 465,629.3 466,628.5 467,626.9 468,628.7 469,628.9 470,630.1 471,627.7 472,629.9 473,628.3 474,628.8 475,626.2 476,627.7 477,626.8 478,626.8 479,625.5 480,623.8 481,624.5 482,624.1 483,624.3 484,625.3 485,626.2 486,626.2 487,626.0 488,626.5 489,628.8 490,628.6 491,628.4 492,628.1 493,628.5 494,628.6 495,628.4 496,628.2 497,630.2 498,628.8 499,628.3 500,627.8 501,628.2 502,629.2 503,629.3 504,628.6 505,628.8 506,628.5 507,627.9 508,629.6 509,629.0 510,630.4 511,628.2 512,628.6 513,629.3 514,628.5 515,627.7 516,628.0 517,628.7 518,628.9 519,628.6 520,629.4 521,629.3 522,628.9 523,628.6 524,628.4 525,629.0 526,629.2 527,628.6 528,628.9 529,628.3 530,627.6 531,627.8 532,629.0 533,628.8 534,629.6 535,628.5 536,629.0 537,629.3 538,629.1 539,627.9 540,628.2 541,628.4 542,627.6 543,628.6 544,628.9 545,627.8 546,629.5 547,627.8 548,627.8 549,627.7 550,627.3 551,628.0 552,627.5 553,628.5 554,627.6 555,627.2 556,626.3 557,625.0 558,625.2 559,623.5 560,622.8 561,618.1 562,610.5 563,593.4 564,571.0 565,557.5 566,570.6 567,593.3 568,609.9 569,617.5 570,622.4 571,625.8 572,625.0 573,625.5 574,625.7 575,625.5 576,627.6 577,627.0 578,627.3 579,628.4 580,629.0 581,626.6 582,628.0 583,627.6 584,627.4 585,627.4 586,626.9 587,627.7 588,626.7 589,625.9 590,625.3 591,622.3 592,616.4 593,607.4 594,600.0 595,600.4 596,609.1 597,616.9 598,622.1 599,624.0 600,625.9 601,626.5 602,625.3 603,626.9 604,627.5 605,627.3 606,626.6 607,628.2 608,626.9 609,626.6 610,626.7 611,627.4 612,628.1 613,628.3 614,627.6 615,626.6 616,626.9 617,626.8 618,627.2 619,626.1 620,627.4 621,627.7 622,627.1 623,627.5 624,626.5 625,626.1 626,626.6 627,627.8 628,627.6 629,626.5 630,627.6 631,626.4 632,627.6 633,626.8 634,626.0 635,626.7 636,625.4 637,625.1 638,624.5 639,625.3 640,624.7 641,624.2 642,623.3 643,623.6 644,620.9 645,617.9 646,613.5 647,601.8 648,581.9 649,560.6 650,561.2 651,581.3 652,599.5 653,611.9 654,615.0 655,618.6 656,618.4 657,620.0 658,618.8 659,619.0 660,617.1 661,615.4 662,614.0 663,612.1 664,608.2 665,604.0 666,594.6 667,578.3 668,553.1 669,518.4 670,470.8 671,415.0 672,352.7 673,298.0 674,263.9 675,262.8 676,297.2 677,351.8 678,414.3 679,471.4 680,518.1 681,553.7 682,579.4 683,593.3 684,602.9 685,609.3 686,612.6 687,615.2 688,617.7 689,619.9 690,618.5 691,620.6 692,621.4 693,621.9 694,622.4 695,622.8 696,624.1 697,623.5 698,624.0 699,624.4 700,624.7 701,624.7 702,625.8 703,625.2 704,625.5 705,625.5 706,625.0 707,625.2 708,625.2 709,626.2 710,625.6 711,625.5 712,626.4 713,626.7 714,625.2 715,627.7 716,626.6 717,626.5 718,627.4 719,626.7 720,626.3 721,628.3 722,626.0 723,626.7 724,627.4 725,626.1 726,626.8 727,627.2 728,628.6 729,626.3 730,626.9 731,627.4 732,627.0 733,626.1 734,627.2 735,627.0 736,627.2 737,627.7 738,627.6 739,627.2 740,627.1 741,626.1 742,626.7 743,626.9 744,626.5 745,626.8 746,626.1 747,627.7 748,628.0 749,626.2 750,626.6 751,626.1 752,627.0 753,626.3 754,625.9 755,625.6 756,625.6 757,624.6 758,625.5 759,624.3 760,624.8 761,624.1 762,624.3 763,623.0 764,623.0 765,620.8 766,620.7 767,618.5 768,616.5 769,613.1 770,609.1 771,600.6 772,593.7 773,581.6 774,570.5 775,554.1 776,541.3 777,531.3 778,531.1 779,534.7 780,547.3 781,560.9 782,573.9 783,587.1 784,597.8 785,604.8 786,611.3 787,614.4 788,617.5 789,619.3 790,621.2 791,623.4 792,623.1 793,623.7 794,623.6 795,624.0 796,625.9 797,624.5 798,624.9 799,625.7 800,625.7 801,627.6 802,624.7 803,626.8 804,627.2 805,626.0 806,626.5 807,627.3 808,628.3 809,626.6 810,626.2 811,628.0 812,628.5 813,627.3 814,626.0 815,628.6 816,627.5 817,628.5 818,627.7 819,627.5 820,627.5 821,628.9 822,628.9 823,626.4 824,627.3 825,629.2 826,627.8 827,627.1 828,628.1 829,628.0 830,628.0 831,627.8 832,627.9 833,627.9 834,628.4 835,627.6 836,628.0 837,628.1 838,629.2 839,628.5 840,628.2 841,628.7 842,628.6 843,629.1 844,628.7 845,629.6 846,629.3 847,628.4 848,628.1 849,629.0 850,628.8 851,628.4 852,627.4 853,627.2 854,628.7 855,629.0 856,629.1 857,627.6 858,629.3 859,628.2 860,628.8 861,628.8 862,628.0 863,628.2 864,627.1 865,628.0 866,627.3 867,628.9 868,628.7 869,629.3 870,628.9 871,628.2 872,628.9 873,628.4 874,629.1 875,628.9 876,628.0 877,628.7 878,628.7 879,628.5 880,629.3 881,629.9 882,628.5 883,628.5 884,627.2 885,628.7 886,628.5 887,627.3 888,629.0 889,629.2 890,628.3 891,628.5 892,628.1 893,629.3 894,627.8 895,628.6 896,630.2 897,628.9 898,629.2 899,628.8 900,628.0 901,628.8 902,629.2 903,628.2 904,629.1 905,629.8 906,629.6 907,627.8 908,628.2 909,627.8 910,629.7 911,629.4 912,629.4 913,628.3 914,628.1 915,629.0 916,629.0 917,628.4 918,629.1 919,629.4 920,629.1 921,628.3 922,627.5 923,628.8 924,629.1 925,628.8 926,628.7 927,628.5 928,629.5 929,629.0 930,629.1 931,628.4 932,628.6 933,629.2 934,628.4 935,628.2 936,628.8 937,629.9 938,629.2 939,630.1 940,629.0 941,628.9 942,628.1 943,628.7 944,630.1 945,629.4 946,629.6 947,629.6 948,629.1 949,629.0 950,629.2 951,629.6 952,629.5 953,629.5 954,629.3 955,628.6 956,629.0 957,628.5 958,629.9 959,627.7 960,629.1 961,630.9 962,629.0 963,628.4 964,629.2 965,630.1 966,629.1 967,629.7 968,629.3 969,629.0 970,631.5 971,629.3 972,628.9 973,628.9 974,629.5 975,629.6 976,629.8 977,629.4 978,628.3 979,629.7 980,629.1 981,629.1 982,628.3 983,628.9 984,628.8 985,629.3 986,628.3 987,629.4 988,629.4 989,628.6 990,628.9 991,628.8 992,630.0 993,627.6 994,629.1 995,628.2 996,629.1 997,630.0 998,629.0 999,629.5 1000,628.8 1001,630.8 1002,630.0 1003,630.2 1004,628.5 1005,628.6 1006,630.2 1007,629.3 1008,629.2 1009,629.6 1010,628.5 1011,629.9 1012,629.4 1013,629.7 1014,628.9 1015,629.7 1016,628.9 1017,630.1 1018,630.2 1019,630.0 1020,629.7 1021,629.8 1022,627.5 1023,630.0 1024,629.2 1025,629.4 1026,629.2 1027,628.4 1028,629.0 1029,629.8 1030,630.3 1031,628.9 1032,628.7 1033,630.4 1034,628.7 1035,630.8 1036,629.4 1037,628.7 1038,630.0 1039,630.5 1040,628.3 1041,630.4 1042,629.1 1043,630.4 1044,629.0 1045,628.2 1046,629.7 1047,630.0 1048,630.8 1049,630.5 1050,629.8 1051,629.1 1052,628.9 1053,629.1 1054,628.7 1055,629.1 1056,627.5 1057,629.4 1058,629.2 1059,631.0 1060,629.8 1061,628.9 1062,629.6 1063,628.3 1064,628.8 1065,627.9 1066,630.2 1067,629.6 1068,628.3 1069,629.1 1070,629.8 1071,629.4 1072,629.3 1073,628.4 1074,628.6 1075,629.0 1076,629.6 1077,628.3 1078,628.1 1079,629.6 1080,628.1 1081,629.4 1082,628.7 1083,629.0 1084,629.5 1085,628.5 1086,628.2 1087,626.4 1088,625.6 1089,624.9 1090,623.1 1091,619.8 1092,617.0 1093,613.4 1094,613.9 1095,617.3 1096,620.0 1097,622.8 1098,624.2 1099,626.9 1100,626.2 1101,627.7 1102,626.6 1103,628.5 1104,627.1 1105,628.5 1106,626.8 1107,627.5 1108,628.6 1109,627.1 1110,627.6 1111,627.1 1112,625.6 1113,627.2 1114,626.9 1115,625.4 1116,626.0 1117,624.2 1118,622.8 1119,621.7 1120,618.5 1121,616.7 1122,608.8 1123,604.0 1124,596.9 1125,588.0 1126,583.8 1127,585.4 1128,589.0 1129,596.5 1130,604.3 1131,609.7 1132,614.4 1133,617.1 1134,621.9 1135,623.0 1136,625.1 1137,625.9 1138,625.3 1139,628.0 1140,627.9 1141,628.0 1142,626.8 1143,627.5 1144,627.6 1145,627.8 1146,627.4 1147,628.6 1148,628.5 1149,628.7 1150,628.2 1151,629.5 1152,628.8 1153,626.8 1154,628.3 1155,628.7 1156,629.5 1157,628.6 1158,628.7 1159,628.4 1160,629.4 1161,628.6 1162,628.5 1163,628.4 1164,629.4 1165,628.6 1166,627.8 1167,629.5 1168,628.5 1169,629.3 1170,629.3 1171,629.9 1172,629.8 1173,628.7 1174,629.0 1175,628.2 1176,630.3 1177,629.4 1178,630.1 1179,628.9 1180,627.7 1181,630.2 1182,629.2 1183,629.2 1184,629.2 1185,629.6 1186,629.5 1187,628.0 1188,629.9 1189,628.8 1190,628.8 1191,630.4 1192,629.8 1193,628.9 1194,627.9 1195,629.3 1196,629.5 1197,629.1 1198,628.3 1199,628.6 1200,628.3 1201,629.3 1202,629.7 1203,629.9 1204,628.7 1205,629.3 1206,629.6 1207,628.8 1208,629.1 1209,630.7 1210,629.3 1211,629.8 1212,628.9 1213,629.2 1214,628.0 1215,629.2 1216,630.0 1217,630.6 1218,630.0 1219,629.7 1220,629.2 1221,628.7 1222,629.1 1223,629.6 1224,628.6 1225,629.8 1226,628.5 1227,627.9 1228,628.5 1229,628.0 1230,628.2 1231,630.0 1232,629.0 1233,629.3 1234,630.0 1235,630.0 1236,628.8 1237,630.1 1238,629.4 1239,629.2 1240,629.5 1241,628.2 1242,628.6 1243,629.1 1244,629.6 1245,628.9 1246,629.1 1247,629.8 1248,630.1 1249,629.7 1250,630.0 1251,628.9 1252,628.9 1253,629.4 1254,628.9 1255,628.8 1256,630.3 1257,629.0 1258,628.5 1259,629.5 1260,630.4 1261,629.2 1262,630.0 1263,628.8 1264,628.8 1265,628.6 1266,629.0 1267,630.4 1268,628.3 1269,630.2 1270,628.4 1271,628.9 1272,629.7 1273,629.5 1274,629.3 1275,627.9 1276,629.3 1277,628.4 1278,630.9 1279,628.9 1280,629.2 1281,628.3 1282,628.7 1283,628.2 1284,629.7 1285,628.9 1286,629.4 1287,628.6 1288,628.7 1289,629.9 1290,628.3 1291,627.8 1292,629.3 1293,628.2 1294,628.7 1295,629.6 1296,628.4 1297,629.6 1298,628.5 1299,630.0 1300,629.9 1301,628.6 1302,628.8 1303,628.4 1304,629.1 1305,629.7 1306,627.9 1307,629.5 1308,628.0 1309,628.3 1310,627.6 1311,630.3 1312,628.9 1313,629.0 1314,628.3 1315,629.5 1316,627.3 1317,628.8 1318,630.3 1319,628.5 1320,628.7 1321,629.1 1322,628.1 1323,628.6 1324,629.3 1325,628.7 1326,628.8 1327,628.2 1328,628.6 1329,628.4 1330,629.3 1331,628.8 1332,628.0 1333,626.4 1334,628.5 1335,628.5 1336,627.2 1337,626.3 1338,626.8 1339,628.0 1340,626.5 1341,626.7 1342,626.8 1343,627.2 1344,625.8 1345,625.2 1346,624.0 1347,624.5 1348,622.6 1349,619.9 1350,616.6 1351,614.1 1352,611.6 1353,606.8 1354,603.9 1355,599.6 1356,596.6 1357,595.3 1358,595.6 1359,596.8 1360,600.6 1361,606.5 1362,608.0 1363,612.3 1364,616.6 1365,618.5 1366,620.2 1367,621.5 1368,624.1 1369,625.5 1370,626.4 1371,626.0 1372,627.2 1373,626.0 1374,627.1 1375,626.7 1376,627.5 1377,628.1 1378,628.4 1379,627.1 1380,628.8 1381,627.6 1382,627.3 1383,628.0 1384,627.2 1385,628.2 1386,628.5 1387,628.2 1388,628.7 1389,628.2 1390,628.4 1391,627.4 1392,628.5 1393,627.9 1394,628.2 1395,628.5 1396,628.7 1397,627.4 1398,627.5 1399,628.4 1400,628.9 1401,628.8 1402,629.2 1403,629.5 1404,628.9 1405,628.6 1406,627.9 1407,627.9 1408,628.2 1409,628.8 1410,628.7 1411,628.5 1412,628.4 1413,628.9 1414,628.6 1415,628.6 1416,628.6 1417,628.0 1418,627.6 1419,628.6 1420,628.4 1421,627.8 1422,627.6 1423,629.2 1424,626.8 1425,626.9 1426,626.7 1427,625.1 1428,625.2 1429,625.4 1430,623.7 1431,622.2 1432,621.0 1433,619.5 1434,619.3 1435,618.2 1436,618.3 1437,619.5 1438,621.2 1439,622.0 1440,623.5 1441,622.7 1442,626.0 1443,627.6 1444,627.5 1445,626.8 1446,626.8 1447,627.9 1448,627.2 1449,628.6 1450,627.8 1451,628.9 1452,629.3 1453,627.0 1454,628.7 1455,628.0 1456,627.6 1457,628.2 1458,628.5 1459,629.4 1460,627.6 1461,629.4 1462,630.1 1463,629.1 1464,629.1 1465,628.7 1466,627.9 1467,629.2 1468,629.1 1469,629.3 1470,630.6 1471,629.3 1472,629.1 1473,629.9 1474,627.9 1475,628.0 1476,628.6 1477,628.4 1478,629.3 1479,628.6 1480,630.1 1481,629.9 1482,629.4 1483,628.6 1484,629.3 1485,629.4 1486,628.1 1487,629.1 1488,629.4 1489,629.0"/>
<polyline fill="none" stroke="#282494" stroke-width="2.5" stroke-linejoin="round" points="119,497.1 120,496.8 121,495.4 122,496.1 123,495.4 124,496.4 125,495.4 126,496.6 127,496.3 128,496.7 129,495.9 130,495.0 131,497.2 132,495.9 133,497.0 134,496.3 135,496.5 136,497.3 137,496.3 138,497.0 139,495.0 140,496.6 141,495.9 142,495.9 143,496.0 144,496.3 145,497.2 146,494.7 147,496.1 148,495.5 149,496.9 150,495.7 151,496.4 152,495.8 153,496.5 154,496.8 155,495.8 156,496.1 157,495.1 158,496.3 159,496.7 160,495.7 161,496.8 162,494.6 163,494.8 164,495.1 165,495.7 166,496.1 167,496.0 168,496.0 169,496.6 170,495.7 171,495.2 172,495.2 173,497.6 174,494.4 175,496.0 176,497.1 177,496.4 178,495.5 179,496.1 180,496.7 181,496.9 182,495.5 183,496.6 184,496.3 185,496.9 186,497.1 187,495.9 188,495.1 189,496.4 190,497.4 191,496.6 192,496.3 193,497.8 194,495.4 195,496.7 196,495.7 197,496.2 198,496.2 199,497.2 200,495.5 201,495.8 202,495.0 203,496.5 204,495.8 205,496.4 206,495.4 207,495.9 208,496.9 209,496.0 210,496.6 211,496.5 212,495.9 213,495.1 214,496.8 215,496.3 216,496.8 217,494.7 218,495.0 219,494.7 220,495.5 221,496.9 222,496.6 223,496.1 224,496.3 225,496.7 226,496.0 227,496.4 228,496.3 229,494.6 230,495.9 231,497.1 232,495.9 233,496.1 234,495.8 235,495.8 236,497.0 237,496.0 238,495.5 239,494.0 240,495.8 241,494.8 242,494.9 243,496.8 244,496.7 245,494.9 246,496.8 247,496.5 248,495.7 249,496.7 250,495.1 251,495.4 252,495.2 253,495.4 254,496.8 255,495.3 256,495.4 257,495.6 258,496.4 259,496.0 260,496.8 261,495.7 262,495.3 263,495.9 264,496.3 265,495.6 266,496.4 267,497.5 268,495.8 269,496.3 270,497.2 271,495.8 272,495.6 273,495.5 274,496.5 275,496.6 276,496.1 277,496.3 278,497.1 279,496.8 280,495.3 281,496.2 282,496.3 283,496.7 284,496.1 285,495.8 286,495.9 287,495.0 288,496.2 289,495.8 290,496.6 291,495.5 292,495.9 293,495.6 294,495.5 295,496.7 296,495.9 297,496.6 298,495.5 299,496.3 300,495.1 301,495.9 302,495.9 303,496.7 304,496.4 305,496.1 306,496.9 307,496.4 308,496.6 309,496.8 310,496.2 311,496.1 312,496.5 313,496.0 314,496.5 315,497.1 316,496.9 317,496.0 318,495.4 319,496.2 320,496.2 321,497.1 322,496.0 323,496.1 324,496.8 325,496.0 326,496.2 327,497.5 328,497.3 329,496.7 330,496.5 331,495.6 332,496.7 333,496.3 334,496.5 335,495.9 336,496.3 337,496.2 338,496.5 339,497.3 340,496.6 341,495.2 342,495.6 343,495.2 344,495.8 345,496.7 346,496.6 347,495.9 348,496.5 349,495.8 350,495.3 351,495.3 352,495.7 353,497.3 354,495.4 355,497.2 356,497.3 357,496.2 358,496.3 359,495.9 360,496.3 361,496.8 362,496.3 363,497.0 364,497.2 365,496.6 366,496.6 367,496.3 368,496.6 369,495.5 370,496.6 371,496.5 372,495.7 373,497.8 374,495.6 375,495.7 376,496.5 377,494.9 378,495.7 379,495.2 380,495.6 381,496.2 382,496.5 383,497.0 384,496.8 385,497.0 386,496.6 387,495.9 388,496.9 389,495.8 390,495.6 391,497.1 392,496.5 393,496.0 394,496.2 395,496.1 396,494.2 397,494.5 398,492.5 399,491.4 400,487.8 401,486.0 402,483.8 403,484.5 404,488.3 405,490.4 406,493.4 407,494.9 408,495.3 409,494.1 410,495.5 411,496.2 412,496.2 413,496.8 414,495.2 415,496.5 416,495.7 417,496.3 418,496.5 419,496.7 420,495.8 421,496.4 422,495.5 423,495.3 424,496.7 425,496.3 426,495.2 427,495.7 428,496.3 429,497.4 430,497.1 431,496.9 432,495.1 433,496.3 434,496.7 435,496.6 436,496.6 437,496.2 438,497.6 439,497.4 440,496.3 441,495.7 442,497.8 443,496.0 444,497.2 445,497.7 446,495.7 447,496.6 448,496.1 449,496.7 450,496.6 451,497.7 452,496.8 453,496.3 454,497.1 455,496.2 456,496.1 457,497.9 458,495.8 459,496.0 460,496.4 461,495.6 462,494.9 463,497.1 464,495.8 465,496.0 466,496.1 467,495.7 468,495.6 469,496.5 470,498.0 471,496.9 472,496.9 473,495.3 474,496.3 475,495.5 476,496.9 477,496.2 478,496.4 479,496.3 480,495.9 481,495.3 482,496.7 483,495.4 484,495.5 485,496.1 486,495.8 487,496.5 488,497.0 489,496.5 490,496.4 491,496.3 492,496.9 493,495.0 494,496.6 495,495.6 496,495.4 497,496.3 498,496.0 499,496.7 500,497.1 501,494.7 502,496.2 503,497.6 504,496.9 505,497.3 506,496.3 507,495.3 508,495.5 509,496.7 510,496.9 511,495.7 512,496.0 513,496.4 514,495.0 515,496.0 516,497.3 517,497.7 518,496.1 519,497.5 520,495.8 521,495.6 522,494.6 523,496.8 524,495.9 525,497.8 526,496.4 527,496.3 528,494.8 529,497.1 530,495.8 531,496.0 532,494.5 533,496.7 534,496.7 535,495.6 536,496.0 537,496.2 538,496.6 539,495.9 540,497.0 541,495.6 542,495.3 543,495.3 544,493.8 545,495.0 546,496.1 547,495.5 548,494.6 549,495.3 550,493.4 551,494.4 552,494.6 553,494.2 554,492.6 555,492.8 556,492.0 557,487.6 558,482.3 559,468.1 560,446.4 561,424.7 562,421.2 563,442.8 564,465.1 565,479.6 566,487.4 567,491.3 568,491.5 569,491.5 570,494.2 571,494.1 572,494.5 573,494.4 574,496.0 575,494.5 576,494.9 577,493.2 578,494.1 579,493.9 580,494.2 581,494.3 582,493.3 583,494.6 584,492.1 585,491.8 586,491.2 587,488.4 588,486.2 589,478.6 590,462.2 591,437.9 592,410.1 593,410.3 594,435.9 595,461.2 596,477.7 597,485.5 598,488.9 599,491.6 600,490.5 601,492.1 602,492.2 603,494.8 604,493.7 605,494.0 606,493.7 607,495.2 608,494.4 609,494.9 610,493.4 611,495.6 612,495.1 613,495.2 614,495.6 615,494.5 616,494.4 617,494.9 618,494.5 619,493.7 620,493.4 621,492.1 622,491.2 623,488.5 624,483.5 625,480.1 626,475.3 627,478.5 628,484.5 629,487.1 630,489.1 631,492.7 632,492.9 633,492.0 634,493.4 635,492.1 636,491.6 637,492.1 638,491.4 639,490.2 640,489.5 641,486.8 642,483.3 643,474.8 644,461.1 645,441.6 646,427.9 647,434.0 648,452.7 649,470.1 650,480.0 651,484.3 652,488.0 653,487.6 654,489.7 655,488.9 656,489.7 657,489.3 658,488.2 659,488.0 660,486.2 661,485.7 662,484.8 663,484.3 664,477.8 665,470.6 666,458.7 667,442.6 668,414.5 669,379.0 670,334.8 671,283.3 672,237.2 673,202.7 674,192.7 675,212.8 676,253.6 677,303.7 678,353.9 679,395.8 680,427.8 681,450.3 682,464.5 683,474.4 684,478.7 685,483.2 686,486.5 687,488.0 688,487.9 689,488.9 690,490.9 691,491.9 692,490.1 693,491.4 694,492.2 695,493.3 696,492.1 697,493.4 698,493.0 699,495.1 700,493.9 701,493.7 702,493.7 703,494.8 704,494.7 705,493.6 706,494.6 707,493.6 708,494.1 709,493.8 710,493.8 711,494.3 712,494.2 713,495.3 714,495.5 715,494.8 716,494.2 717,495.6 718,493.6 719,493.7 720,495.6 721,495.6 722,495.8 723,495.0 724,494.3 725,494.8 726,495.6 727,494.6 728,494.7 729,494.2 730,494.3 731,495.7 732,495.4 733,494.3 734,494.3 735,494.6 736,495.4 737,494.1 738,494.8 739,493.3 740,493.9 741,495.0 742,495.2 743,493.7 744,493.9 745,494.9 746,493.9 747,493.7 748,494.3 749,493.9 750,494.3 751,493.9 752,492.6 753,492.7 754,492.4 755,491.1 756,490.8 757,491.6 758,489.0 759,489.8 760,488.0 761,485.9 762,484.0 763,480.6 764,476.8 765,470.1 766,463.2 767,454.7 768,446.3 769,434.9 770,422.4 771,412.3 772,403.6 773,399.4 774,399.5 775,405.7 776,411.3 777,423.8 778,434.6 779,444.6 780,454.8 781,463.1 782,470.5 783,476.8 784,479.4 785,484.7 786,485.9 787,489.1 788,489.6 789,491.2 790,491.6 791,492.5 792,492.3 793,492.1 794,493.5 795,493.9 796,495.1 797,492.5 798,494.0 799,495.0 800,493.6 801,494.5 802,496.2 803,495.9 804,494.4 805,496.1 806,496.0 807,495.8 808,495.7 809,495.6 810,494.9 811,495.2 812,496.2 813,495.8 814,497.1 815,495.6 816,494.2 817,495.7 818,496.1 819,496.3 820,496.1 821,495.5 822,497.1 823,495.7 824,496.7 825,496.0 826,495.4 827,497.2 828,494.5 829,495.7 830,496.6 831,496.1 832,496.9 833,496.3 834,496.1 835,497.9 836,496.3 837,496.3 838,495.7 839,495.9 840,496.9 841,496.9 842,496.5 843,496.0 844,497.0 845,495.4 846,496.3 847,496.4 848,496.0 849,496.7 850,496.1 851,496.1 852,497.9 853,497.2 854,497.5 855,496.7 856,497.3 857,497.2 858,497.5 859,498.4 860,496.5 861,496.9 862,496.7 863,494.3 864,495.8 865,496.8 866,497.2 867,496.4 868,497.6 869,497.7 870,496.5 871,497.8 872,498.0 873,497.1 874,496.1 875,497.8 876,496.7 877,496.6 878,496.9 879,496.4 880,497.6 881,497.4 882,497.7 883,497.2 884,496.3 885,496.7 886,497.5 887,496.6 888,498.9 889,496.7 890,496.4 891,497.7 892,497.4 893,496.8 894,496.7 895,497.1 896,497.4 897,497.4 898,496.6 899,497.1 900,497.4 901,497.3 902,494.6 903,496.1 904,496.2 905,496.6 906,496.8 907,497.3 908,497.1 909,496.5 910,496.5 911,497.7 912,495.9 913,496.4 914,497.1 915,496.1 916,494.1 917,495.3 918,494.0 919,492.7 920,490.8 921,485.7 922,478.6 923,472.4 924,469.2 925,473.1 926,480.4 927,486.7 928,490.5 929,492.9 930,494.5 931,494.5 932,494.8 933,496.8 934,496.0 935,496.3 936,496.3 937,496.6 938,496.6 939,496.7 940,496.2 941,497.4 942,496.3 943,497.6 944,495.5 945,496.2 946,497.6 947,496.8 948,496.5 949,497.2 950,496.2 951,497.0 952,495.4 953,496.7 954,496.5 955,497.4 956,497.6 957,496.4 958,498.1 959,496.6 960,495.5 961,495.3 962,498.0 963,496.8 964,496.4 965,496.3 966,496.0 967,497.7 968,496.6 969,497.7 970,496.2 971,494.4 972,496.2 973,494.5 974,493.3 975,492.6 976,488.7 977,486.9 978,484.1 979,483.8 980,487.0 981,489.1 982,492.9 983,494.5 984,495.1 985,496.2 986,496.6 987,496.2 988,497.2 989,496.6 990,497.3 991,496.2 992,497.0 993,497.3 994,496.5 995,496.8 996,496.8 997,497.7 998,496.7 999,497.5 1000,498.3 1001,497.5 1002,496.1 1003,497.3 1004,498.0 1005,497.1 1006,498.1 1007,497.7 1008,497.6 1009,497.1 1010,496.9 1011,497.1 1012,497.4 1013,497.7 1014,497.6 1015,497.1 1016,497.4 1017,497.6 1018,496.2 1019,496.8 1020,496.8 1021,497.2 1022,497.1 1023,497.2 1024,496.7 1025,497.8 1026,497.5 1027,496.2 1028,497.4 1029,496.6 1030,498.5 1031,497.0 1032,497.1 1033,497.4 1034,497.2 1035,497.3 1036,498.4 1037,497.5 1038,497.9 1039,498.1 1040,496.7 1041,498.5 1042,497.8 1043,498.0 1044,496.7 1045,497.9 1046,497.6 1047,496.9 1048,498.9 1049,497.7 1050,497.1 1051,497.4 1052,497.9 1053,498.1 1054,497.7 1055,498.1 1056,498.3 1057,496.4 1058,496.9 1059,496.6 1060,497.3 1061,498.3 1062,497.7 1063,496.5 1064,497.0 1065,497.9 1066,496.8 1067,497.1 1068,497.4 1069,495.9 1070,497.7 1071,497.4 1072,497.5 1073,496.4 1074,496.5 1075,496.6 1076,497.2 1077,497.0 1078,497.0 1079,498.1 1080,497.7 1081,496.2 1082,496.1 1083,497.7 1084,496.1 1085,497.0 1086,496.9 1087,494.9 1088,494.3 1089,493.2 1090,490.4 1091,487.2 1092,483.7 1093,480.8 1094,478.3 1095,480.1 1096,483.6 1097,486.8 1098,491.9 1099,491.3 1100,493.8 1101,495.4 1102,494.4 1103,496.1 1104,496.7 1105,495.3 1106,496.1 1107,495.2 1108,496.3 1109,496.0 1110,496.0 1111,496.7 1112,496.0 1113,496.5 1114,495.8 1115,494.3 1116,495.0 1117,494.8 1118,493.0 1119,494.3 1120,492.5 1121,491.3 1122,488.3 1123,486.0 1124,481.8 1125,475.7 1126,469.0 1127,459.7 1128,454.9 1129,448.9 1130,448.7 1131,454.6 1132,462.1 1133,470.8 1134,476.5 1135,482.8 1136,485.9 1137,491.0 1138,491.7 1139,494.0 1140,492.7 1141,494.5 1142,493.8 1143,495.2 1144,495.6 1145,494.2 1146,494.6 1147,494.7 1148,494.6 1149,495.2 1150,495.0 1151,494.7 1152,495.7 1153,495.8 1154,494.2 1155,494.3 1156,493.9 1157,492.5 1158,490.4 1159,489.2 1160,486.6 1161,484.3 1162,482.7 1163,485.2 1164,487.4 1165,488.5 1166,491.0 1167,493.8 1168,493.7 1169,495.3 1170,495.6 1171,495.5 1172,496.0 1173,495.3 1174,496.1 1175,495.2 1176,498.3 1177,497.8 1178,497.7 1179,497.1 1180,497.6 1181,497.8 1182,497.7 1183,497.6 1184,496.4 1185,497.3 1186,496.7 1187,496.2 1188,496.3 1189,497.4 1190,497.8 1191,496.1 1192,498.3 1193,498.1 1194,496.8 1195,496.8 1196,497.0 1197,497.8 1198,496.8 1199,496.3 1200,497.3 1201,495.6 1202,497.1 1203,497.8 1204,497.2 1205,497.5 1206,497.3 1207,497.4 1208,496.9 1209,496.2 1210,496.5 1211,496.5 1212,497.3 1213,497.3 1214,496.1 1215,494.8 1216,494.3 1217,493.9 1218,494.3 1219,492.7 1220,491.6 1221,490.5 1222,491.5 1223,491.3 1224,491.6 1225,492.5 1226,494.5 1227,494.0 1228,496.0 1229,496.2 1230,495.8 1231,496.8 1232,496.3 1233,496.0 1234,496.5 1235,496.2 1236,497.3 1237,497.0 1238,497.4 1239,497.6 1240,494.9 1241,497.3 1242,495.9 1243,497.3 1244,496.5 1245,497.2 1246,498.1 1247,496.0 1248,497.3 1249,497.2 1250,495.9 1251,497.7 1252,497.3 1253,496.9 1254,496.7 1255,499.5 1256,497.0 1257,496.0 1258,496.6 1259,497.0 1260,497.0 1261,497.2 1262,496.5 1263,497.6 1264,496.9 1265,496.3 1266,496.7 1267,497.0 1268,497.9 1269,497.6 1270,497.0 1271,497.3 1272,497.4 1273,498.7 1274,496.8 1275,497.6 1276,497.8 1277,496.6 1278,497.4 1279,497.4 1280,496.9 1281,497.6 1282,498.0 1283,498.0 1284,497.1 1285,497.4 1286,498.9 1287,496.5 1288,497.4 1289,497.8 1290,497.3 1291,497.7 1292,497.3 1293,497.7 1294,498.1 1295,497.0 1296,497.3 1297,497.1 1298,496.9 1299,497.1 1300,496.3 1301,497.6 1302,498.3 1303,498.3 1304,498.0 1305,496.4 1306,498.1 1307,496.5 1308,497.0 1309,498.3 1310,496.3 1311,497.6 1312,497.2 1313,496.8 1314,496.3 1315,497.2 1316,496.5 1317,497.6 1318,497.7 1319,495.8 1320,496.4 1321,496.5 1322,495.8 1323,495.9 1324,496.6 1325,496.4 1326,495.3 1327,496.0 1328,496.7 1329,495.4 1330,495.6 1331,497.2 1332,496.9 1333,494.8 1334,494.8 1335,495.9 1336,494.7 1337,495.1 1338,494.8 1339,495.2 1340,492.8 1341,492.7 1342,492.9 1343,493.9 1344,492.4 1345,490.4 1346,490.7 1347,489.4 1348,486.9 1349,484.6 1350,482.4 1351,479.8 1352,475.5 1353,471.8 1354,467.3 1355,463.2 1356,459.4 1357,457.9 1358,456.7 1359,457.6 1360,460.7 1361,463.8 1362,468.0 1363,470.3 1364,475.7 1365,478.5 1366,481.5 1367,484.2 1368,487.9 1369,489.5 1370,489.9 1371,490.8 1372,492.5 1373,492.9 1374,494.9 1375,493.2 1376,493.3 1377,494.6 1378,495.1 1379,495.4 1380,496.0 1381,497.1 1382,495.5 1383,495.5 1384,494.7 1385,496.2 1386,496.7 1387,496.0 1388,497.1 1389,496.4 1390,497.5 1391,496.7 1392,495.8 1393,496.1 1394,495.5 1395,495.4 1396,496.8 1397,497.3 1398,498.1 1399,496.7 1400,496.6 1401,496.0 1402,497.5 1403,497.1 1404,496.4 1405,497.3 1406,497.2 1407,495.5 1408,497.3 1409,496.9 1410,496.5 1411,496.5 1412,498.0 1413,497.8 1414,498.0 1415,495.9 1416,496.2 1417,497.3 1418,495.8 1419,496.0 1420,495.2 1421,497.7 1422,497.0 1423,496.4 1424,496.1 1425,495.3 1426,495.0 1427,495.2 1428,493.7 1429,494.4 1430,492.3 1431,491.1 1432,491.5 1433,489.4 1434,488.9 1435,487.4 1436,485.6 1437,487.6 1438,486.7 1439,489.3 1440,488.5 1441,489.3 1442,491.9 1443,493.0 1444,493.7 1445,493.4 1446,495.5 1447,494.3 1448,495.4 1449,495.5 1450,496.0 1451,497.0 1452,496.1 1453,497.0 1454,497.2 1455,495.6 1456,496.0 1457,496.6 1458,496.5 1459,497.2 1460,495.7 1461,497.5 1462,497.6 1463,497.0 1464,496.1 1465,497.1 1466,496.8 1467,497.6 1468,497.1 1469,497.7 1470,496.9 1471,498.2 1472,495.6 1473,496.5 1474,497.6 1475,496.2 1476,497.8 1477,496.4 1478,497.4 1479,496.7 1480,497.0 1481,497.4 1482,497.2 1483,497.1 1484,498.8 1485,497.3 1486,496.7 1487,498.0 1488,497.9 1489,498.2"/>
</g>
<g id="markers" fill="#000">
<circle cx="403.4" cy="450.6" r="18.6"/>
<circle cx="645" cy="403.5" r="18.6"/>
<circle cx="776" cy="365.8" r="18.6"/>
<circle cx="1130" cy="420" r="18.6"/>
<circle cx="1361.4" cy="428" r="18.6"/>
<circle cx="1440" cy="453" r="18.6"/>
<circle cx="398.8" cy="589" r="18.6"/>
<circle cx="646.9" cy="534.4" r="18.6"/>
<circle cx="776.3" cy="503.6" r="18.6"/>
<circle cx="1130.5" cy="554" r="18.6"/>
<circle cx="1355.5" cy="565.2" r="18.6"/>
<circle cx="1438" cy="581" r="18.6"/>
<circle cx="398.8" cy="727.6" r="18.6"/>
<circle cx="647.5" cy="654" r="18.6"/>
<circle cx="777.8" cy="646.5" r="18.6"/>
<circle cx="1131.5" cy="699.7" r="18.6"/>
<circle cx="1359" cy="709.5" r="18.6"/>
<circle cx="1440.5" cy="721.5" r="18.6"/>
<circle cx="393.7" cy="850.3" r="18.6"/>
<circle cx="542.4" cy="847.9" r="18.6"/>
<circle cx="584.6" cy="855" r="18.6"/>
<circle cx="616.1" cy="802.9" r="18.6"/>
<circle cx="1125.1" cy="787.6" r="18.6"/>
<circle cx="1355.5" cy="800.7" r="18.6"/>
<circle cx="1440.2" cy="842" r="18.6"/>
<circle cx="675.1" cy="163.4" r="20.5"/>
<rect x="902.5" y="416.5" width="37" height="37"/>
<rect x="902.5" y="687.5" width="37" height="37"/>
<polygon points="551.8,372.5 558.1,386.6 573.5,388.3 562.0,398.6 565.2,413.8 551.8,406.1 538.4,413.8 541.6,398.6 530.1,388.3 545.5,386.6"/>
<polygon points="978.0,438.2 984.5,452.8 1000.3,454.4 988.5,465.1 991.8,480.7 978.0,472.7 964.2,480.7 967.5,465.1 955.7,454.4 971.5,452.8"/>
<polygon points="560.0,511.8 565.9,525.1 580.3,526.6 569.6,536.3 572.6,550.5 560.0,543.2 547.4,550.5 550.4,536.3 539.7,526.6 554.1,525.1"/>
<polygon points="597.7,363.3 617.4,400.7 577.4,400.7"/>
<polygon points="619.3,420.3 639.7,458.4 599,458.4"/>
<polygon points="1168.3,433.2 1188.1,471.4 1147.8,471.4"/>
<polygon points="597.7,549.8 618,585.9 577.4,585.9"/>
<polygon points="1068.5,432.5 1105.3,432.5 1086.2,470.7"/>
<polygon points="1072,571 1111,571 1090.4,608.6"/>
</g>
<g id="frame" stroke="#111" fill="none">
<rect x="116.5" y="27.5" width="1374.5" height="1009.5" stroke-width="5.5"/>
</g>
<g id="ticks" stroke="#111" stroke-width="5">
<line x1="116.5" y1="1037" x2="116.5" y2="1050.5"/>
<line x1="188.9" y1="1037" x2="188.9" y2="1061.5"/>
<line x1="261.2" y1="1037" x2="261.2" y2="1050.5"/>
<line x1="333.6" y1="1037" x2="333.6" y2="1061.5"/>
<line x1="405.9" y1="1037" x2="405.9" y2="1050.5"/>
<line x1="478.2" y1="1037" x2="478.2" y2="1061.5"/>
<line x1="550.6" y1="1037" x2="550.6" y2="1050.5"/>
<line x1="623.0" y1="1037" x2="623.0" y2="1061.5"/>
<line x1="695.3" y1="1037" x2="695.3" y2="1050.5"/>
<line x1="767.6" y1="1037" x2="767.6" y2="1061.5"/>
<line x1="840.0" y1="1037" x2="840.0" y2="1050.5"/>
<line x1="912.4" y1="1037" x2="912.4" y2="1061.5"/>
<line x1="984.7" y1="1037" x2="984.7" y2="1050.5"/>
<line x1="1057.1" y1="1037" x2="1057.1" y2="1061.5"/>
<line x1="1129.4" y1="1037" x2="1129.4" y2="1050.5"/>
<line x1="1201.8" y1="1037" x2="1201.8" y2="1061.5"/>
<line x1="1274.1" y1="1037" x2="1274.1" y2="1050.5"/>
<line x1="1346.5" y1="1037" x2="1346.5" y2="1061.5"/>
<line x1="1418.8" y1="1037" x2="1418.8" y2="1050.5"/>
<line x1="1491.2" y1="1037" x2="1491.2" y2="1061.5"/>
</g>
<g id="ticklabels" font-family="'Liberation Sans', Arial, sans-serif" font-weight="bold" font-size="56.5" fill="#111">
<text x="188.9" y="1116.5" text-anchor="middle">10</text>
<text x="333.6" y="1116.5" text-anchor="middle">20</text>
<text x="478.2" y="1116.5" text-anchor="middle">30</text>
<text x="623.0" y="1116.5" text-anchor="middle">40</text>
<text x="767.6" y="1116.5" text-anchor="middle">50</text>
<text x="912.4" y="1116.5" text-anchor="middle">60</text>
<text x="1057.1" y="1116.5" text-anchor="middle">70</text>
<text x="1201.8" y="1116.5" text-anchor="middle">80</text>
<text x="1346.5" y="1116.5" text-anchor="middle">90</text>
<text x="1491.2" y="1116.5" text-anchor="middle">100</text>
</g>
<text x="685" y="1183.7" font-family="'Liberation Serif', 'Times New Roman', serif" font-size="62" fill="#222">2θ<tspan x="768" font-size="64.5">/degrees</tspan></text>
<text transform="translate(65,735) rotate(-90)" font-family="'Liberation Serif', 'Times New Roman', serif" font-size="65.4" fill="#222">Intensity (counts)</text>
<g font-family="'Liberation Sans', Arial, sans-serif" font-weight="bold" font-size="55">
<text transform="translate(153.5,464) scale(0.972,1)" fill="#1c1cb0">NST</text>
<text transform="translate(155,604) scale(0.96,1)" fill="#26782a">NS</text>
<text transform="translate(152.5,748) scale(0.94,1)" fill="#cc1a33">NT</text>
<text transform="translate(148.5,907.5) scale(0.957,1)" fill="#111">NBA</text>
</g>
<g id="legend" fill="#000" font-family="'Liberation Sans', Arial, sans-serif" font-weight="bold">
<circle cx="988" cy="86" r="22"/>
<text x="1019.5" y="107.5" font-size="56">Ni</text>
<text x="1079.5" y="127.8" font-size="48.5">3</text>
<text x="1108" y="107.5" font-size="56">Al</text>
<rect x="1203" y="71.5" width="44.5" height="43"/>
<text x="1271" y="114" font-size="55">Ti</text>
<text x="1323.5" y="134.3" font-size="48.5">3</text>
<text x="1351" y="114" font-size="55">SiC</text>
<text x="1449" y="136" font-size="48">2</text>
<polygon points="995.5,170.3 1002.6,186.3 1020.0,188.1 1007.0,199.8 1010.6,216.9 995.5,208.2 980.4,216.9 984.0,199.8 971.0,188.1 988.4,186.3"/>
<text x="1027" y="216.3" font-family="'Liberation Serif', 'Times New Roman', serif" font-size="57">Sn</text>
<polygon points="1166.5,171 1190.2,215.4 1142.8,215.4"/>
<text x="1213.5" y="215" font-size="57">Ag</text>
<polygon points="1334.3,179.9 1372,179.9 1353.2,219.4"/>
<text x="1390" y="215" font-size="56.5">Cu</text>
</g>
</svg>
</body></html>
